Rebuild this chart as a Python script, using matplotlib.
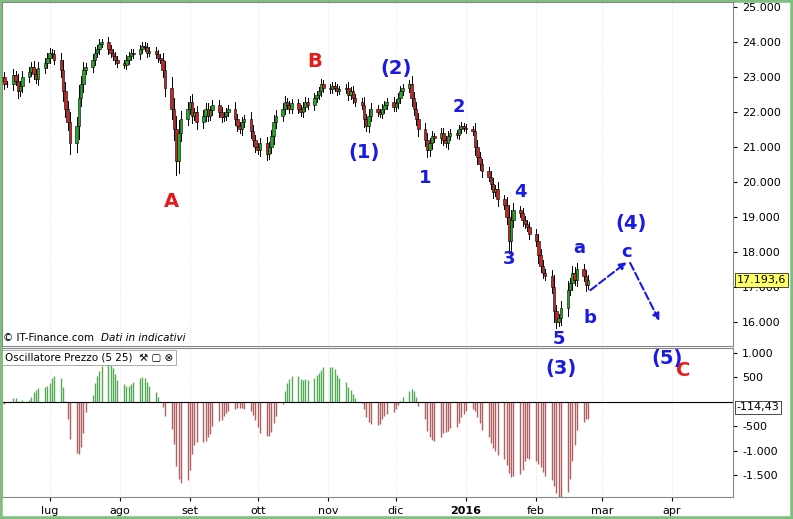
import numpy as np
import pandas as pd
import matplotlib
matplotlib.use("Agg")
import matplotlib.pyplot as plt
import matplotlib.dates as mdates
from matplotlib.patches import Rectangle

# closes (FTSE MIB like), first 25 are warm-up for the oscillator
warmup = [22800, 22900, 23100, 23000, 22800, 22600, 22700, 22900, 23000, 23100, 22900, 22800, 22700,
          22600, 22800, 23000, 23100, 22900, 22700, 22600, 22500, 22700, 22900, 23000, 22800]
jun = [22800, 23050, 22900, 22600, 22750, 23000, 23150, 23300, 23100, 22950, 23250, 23400, 23550, 23700, 23650]
jul = [23500, 23200, 22600, 22100, 21700, 21100, 21600, 22400, 22800, 23200, 23300, 23500, 23700, 23800,
       23950, 24000, 23800, 23700, 23600, 23500, 23400, 23350, 23500]
ago = [23600, 23700, 23650, 23800, 23900, 23850, 23700, 23750, 23650, 23550, 23500, 23200, 22700, 22100,
       21500, 20600, 21400, 21800, 22100, 22300, 21900]
sep = [22000, 21700, 21900, 22100, 21900, 22050, 22200, 22000, 21850, 21900, 22000, 22100, 21800, 21600,
       21500, 21700, 21800, 21450, 21200, 21000, 20900, 21100]
ott = [20800, 21000, 21300, 21700, 21900, 22100, 22300, 22200, 22100, 22250, 22100, 22000, 22150, 22300,
       22200, 22400, 22500, 22600, 22800, 22700, 22650, 22750]
nov = [22700, 22600, 22650, 22700, 22500, 22600, 22400, 22300, 22200, 21800, 21600, 21900, 22100, 22000,
       21950, 22100, 22200, 22300, 22150, 22250, 22400]
dic = [22600, 22700, 22800, 22400, 22100, 21800, 21500, 21200, 20900, 21100, 21300, 21250, 21400, 21200,
       21100, 21300, 21400, 21350, 21500, 21600, 21550, 21500]
gen = [21450, 21000, 20700, 20500, 20300, 20150, 19950, 19700, 19800, 19500, 19350, 19000, 18300, 18900,
       19200, 19100, 18900, 18800, 18700, 18500]
feb = [18300, 17900, 17600, 17400, 17300, 17000, 16300, 16000, 16100, 16400, 16900, 17100, 17400, 17200,
       17500, 17300, 17050, 17193.6]

closes = np.array(warmup + jun + jul + ago + sep + ott + nov + dic + gen + feb, dtype=float)
dates = pd.bdate_range(end="2016-02-24", periods=len(closes))
s = pd.Series(closes, index=dates)
osc = s.rolling(5).mean() - s.rolling(25).mean()
vis = s.index >= pd.Timestamp("2015-06-10")

opens = np.r_[closes[0], closes[:-1]]
span = np.abs(closes - opens)
highs = np.maximum(opens, closes) + 80 + 0.35 * span
lows = np.minimum(opens, closes) - 80 - 0.35 * span

W, H = 793, 519
fig = plt.figure(figsize=(W / 100, H / 100), dpi=100)
fig.patch.set_facecolor("white")
fig.patches.append(Rectangle((0, 0), 1, 1, transform=fig.transFigure, fill=False,
                             edgecolor="#7fc07f", linewidth=4))

def px(l, t, r, b):
    return [l / W, 1 - b / H, (r - l) / W, (b - t) / H]

ax = fig.add_axes(px(2, 2, 733, 346))
ax2 = fig.add_axes(px(2, 348, 733, 497), sharex=ax)
ax.set_zorder(3)
ax.patch.set_alpha(0)

dnum = mdates.date2num(s.index.to_pydatetime())
for i in np.where(vis)[0]:
    x = dnum[i]
    up = closes[i] >= opens[i]
    ax.plot([x, x], [lows[i], highs[i]], color="black", linewidth=0.7, zorder=2)
    ax.add_patch(Rectangle((x - 0.55, min(opens[i], closes[i])), 1.1,
                           max(span[i], 15), facecolor="#22aa22" if up else "#cc2222",
                           edgecolor="black", linewidth=0.4, zorder=3))

ov = osc[vis]
ax2.vlines(mdates.date2num(ov.index.to_pydatetime()), 0, ov.values,
           colors=["#55aa55" if v >= 0 else "#b06060" for v in ov.values], linewidth=1.0)
ax2.axhline(0, color="black", linewidth=0.8)

x0 = mdates.date2num(pd.Timestamp("2015-06-10"))
x1 = mdates.date2num(pd.Timestamp("2016-04-28"))
ax.set_xlim(x0, x1)
ax.set_ylim(15300, 25150)
ax2.set_ylim(-1950, 1100)

months = pd.date_range("2015-07-01", "2016-04-01", freq="MS")
mlab = ["lug", "ago", "set", "ott", "nov", "dic", "2016", "feb", "mar", "apr"]
ax2.set_xticks(mdates.date2num(months.to_pydatetime()))
ax2.set_xticklabels(mlab, fontsize=8)
ax2.get_xticklabels()[6].set_fontweight("bold")
plt.setp(ax.get_xticklabels(), visible=False)

ax.set_yticks(np.arange(16000, 25001, 1000))
ax.set_yticklabels([f"{v // 1000}.000" for v in range(16000, 25001, 1000)], fontsize=8)
ax2.set_yticks([-1500, -1000, -500, 500, 1000])
ax2.set_yticklabels(["-1.500", "-1.000", "-500", "500", "1.000"], fontsize=8)
for a in (ax, ax2):
    a.yaxis.tick_right()
    a.tick_params(length=3, colors="black")
    for sp in a.spines.values():
        sp.set_color("#888888")
    a.grid(axis="x", color="#dddddd", linestyle=":", linewidth=0.6)
ax.tick_params(axis="x", length=0)

# price tags
ax.text(1.005, 17193.6, "17.193,6", transform=ax.get_yaxis_transform(), fontsize=8, va="center",
        bbox=dict(boxstyle="square,pad=0.15", facecolor="#ffff66", edgecolor="black", linewidth=0.5))
ax2.text(1.005, -114.43, "-114,43", transform=ax2.get_yaxis_transform(), fontsize=8, va="center",
         bbox=dict(boxstyle="square,pad=0.15", facecolor="white", edgecolor="black", linewidth=0.5))

ax.text(0.002, 0.01, "© IT-Finance.com", transform=ax.transAxes, fontsize=7.5, va="bottom")
ax.text(0.135, 0.01, "Dati in indicativi", transform=ax.transAxes, fontsize=7.5, va="bottom", style="italic")
ax2.text(0.004, 0.97, "Oscillatore Prezzo (5 25)  ⚒ ▢ ⊗", transform=ax2.transAxes, fontsize=7.5, va="top",
         bbox=dict(boxstyle="square,pad=0.25", facecolor="white", edgecolor="#888888", linewidth=0.5))

# Elliott wave labels
blue, red = "#1a1ae6", "#e61a1a"
waves = [("A", "2015-08-24", 19450, red), ("B", "2015-10-26", 23450, red), ("C", "2016-04-06", 14600, red),
         ("(1)", "2015-11-17", 20850, blue), ("(2)", "2015-12-01", 23250, blue),
         ("1", "2015-12-14", 20100, blue), ("2", "2015-12-29", 22150, blue),
         ("3", "2016-01-20", 17800, blue), ("4", "2016-01-25", 19700, blue),
         ("5", "2016-02-11", 15500, blue), ("(3)", "2016-02-12", 14650, blue),
         ("a", "2016-02-20", 18100, blue), ("b", "2016-02-25", 16100, blue),
         ("c", "2016-03-12", 18000, blue), ("(4)", "2016-03-14", 18800, blue),
         ("(5)", "2016-03-30", 14950, blue)]
for lab, d, y, col in waves:
    fs = 14 if lab.startswith("(") or lab in "ABC" else 13
    ax.text(mdates.date2num(pd.Timestamp(d)), y, lab, color=col, fontsize=fs, fontweight="bold",
            ha="center", va="center", clip_on=False, zorder=5)

path = [("2016-02-24", 16850), ("2016-03-13", 17750), ("2016-03-27", 15950)]
for (d0, y0), (d1, y1) in zip(path[:-1], path[1:]):
    ax.annotate("", xy=(mdates.date2num(pd.Timestamp(d1)), y1),
                xytext=(mdates.date2num(pd.Timestamp(d0)), y0),
                arrowprops=dict(arrowstyle="-|>", color=blue, linestyle="--", linewidth=1.5))

fig.savefig("out.png", dpi=100)
